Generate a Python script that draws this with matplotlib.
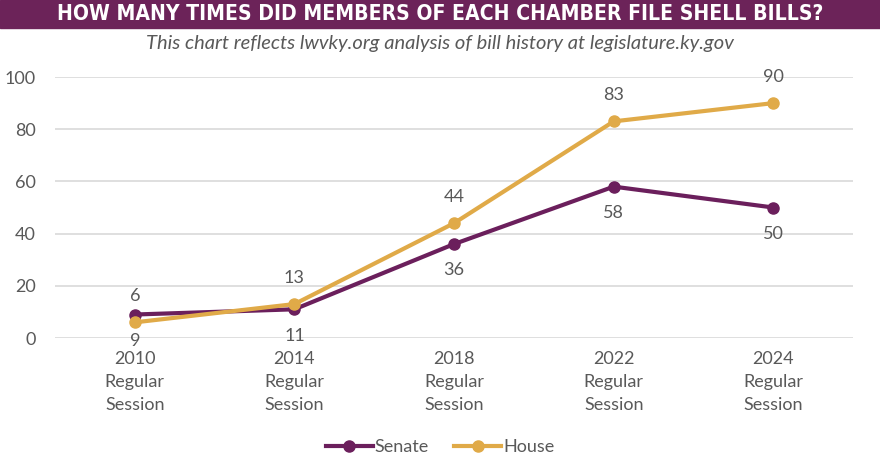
import matplotlib.pyplot as plt
import numpy as np

# data
sessions = ["2010\nRegular\nSession", "2014\nRegular\nSession", "2018\nRegular\nSession",
            "2022\nRegular\nSession", "2024\nRegular\nSession"]
senate = [9, 11, 36, 58, 50]
house = [6, 13, 44, 83, 90]
y_ticks = [0, 20, 40, 60, 80, 100]

purple = "#6B1F5C"
gold = "#E0AA48"
grey = "#595959"

plt.rcParams['font.family'] = ['Lato', 'DejaVu Sans']

fig = plt.figure(figsize=(8.8, 4.69), dpi=100)

# title bar
fig.patches.append(plt.Rectangle((0, 1 - 28 / 469), 1, 28 / 469, transform=fig.transFigure,
                                 color="#6C2359", zorder=0))
fig.text(0.5, 1 - 14.5 / 469, "HOW MANY TIMES DID MEMBERS OF EACH CHAMBER FILE SHELL BILLS?",
         ha='center', va='center', color='white', fontsize=15.1, fontweight='bold',
         fontstretch='condensed', family=['DejaVu Sans'])
fig.text(0.5, 1 - 44 / 469, "This chart reflects lwvky.org analysis of bill history at legislature.ky.gov",
         ha='center', va='center', color=grey, fontsize=14.5, style='italic')

ax = fig.add_axes([0.0625, 0.2793, 0.907, 0.5565])
x = np.arange(len(sessions))

ax.plot(x, senate, color=purple, lw=3, marker='o', ms=8, label='Senate', zorder=3)
ax.plot(x, house, color=gold, lw=3, marker='o', ms=8, label='House', zorder=4)

for xi, v in zip(x, house):
    ax.annotate(str(v), (xi, v), xytext=(0, 19), textcoords='offset points',
                ha='center', va='center', color=grey, fontsize=13, annotation_clip=False)
for xi, v in zip(x, senate):
    ax.annotate(str(v), (xi, v), xytext=(0, -19), textcoords='offset points',
                ha='center', va='center', color=grey, fontsize=13, annotation_clip=False)

ax.set_xlim(-0.5, len(sessions) - 0.5)
ax.set_ylim(0, 100)
ax.set_yticks(y_ticks)
ax.set_xticks(x)
ax.set_xticklabels(sessions, color=grey, fontsize=13, linespacing=1.55)
ax.tick_params(axis='y', colors=grey, labelsize=13, length=0, pad=14)
ax.tick_params(axis='x', length=0, pad=9)
ax.grid(axis='y', color='#D9D9D9', lw=1.2)
ax.set_axisbelow(True)
for s in ax.spines.values():
    s.set_visible(False)

leg = fig.legend(loc='center', bbox_to_anchor=(0.5, 1 - 447 / 469), ncol=2, frameon=False,
                 fontsize=13, handlelength=2.6, columnspacing=1.4, handletextpad=0.1)
for t in leg.get_texts():
    t.set_color(grey)

fig.savefig("out.png", dpi=100)
